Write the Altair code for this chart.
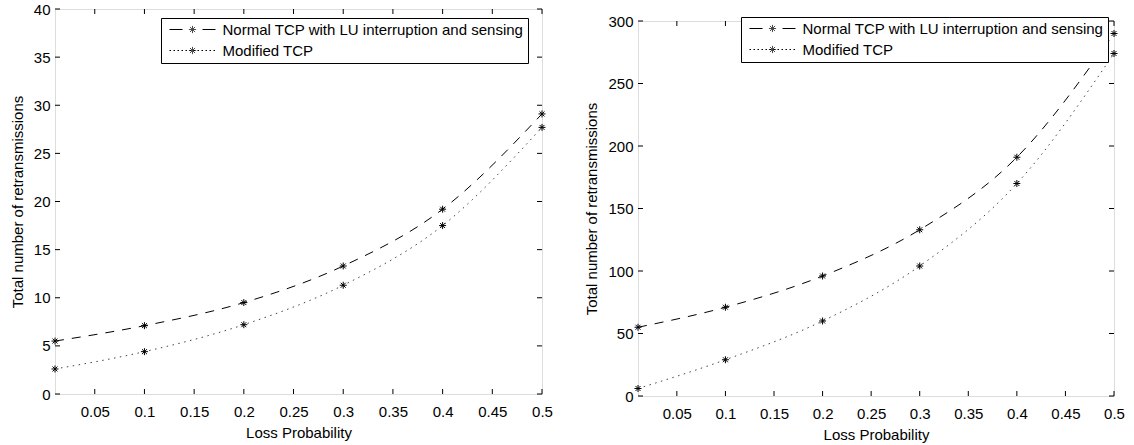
import altair as alt
import pandas as pd

# ---------------- data ----------------
loss_prob = [0.01, 0.1, 0.2, 0.3, 0.4, 0.5]
series_names = ["Normal TCP with LU interruption and sensing", "Modified TCP"]
left_normal = [5.5, 7.1, 9.5, 13.3, 19.2, 29.1]
left_modified = [2.6, 4.4, 7.2, 11.3, 17.5, 27.7]
right_normal = [55, 71, 96, 133, 191, 290]
right_modified = [6, 29, 60, 104, 170, 274]
x_tick_values = [0.05, 0.1, 0.15, 0.2, 0.25, 0.3, 0.35, 0.4, 0.45, 0.5]
left_y_ticks = [0, 5, 10, 15, 20, 25, 30, 35, 40]
right_y_ticks = [0, 50, 100, 150, 200, 250, 300]
x_title = "Loss Probability"
y_title = "Total number of retransmissions"
star_keys = ["star-a", "star-b"]

FONT = "Liberation Sans"
FS = 15


def star_path(r, cx=0.0):
    r = round(r, 4)
    d = round(r * 0.7071, 4)
    c = round(cx, 4)
    return (f"M{c},{-r}V{r}M{round(c - r, 4)},0H{round(c + r, 4)}"
            f"M{round(c - d, 4)},{-d}L{round(c + d, 4)},{d}M{round(c - d, 4)},{d}L{round(c + d, 4)},{-d}")


def panel(normal, modified, y_max, y_ticks, width, height, lx, ly):
    df = pd.DataFrame({
        "x": loss_prob + loss_prob,
        "y": normal + modified,
        "series": [series_names[0]] * len(normal) + [series_names[1]] * len(modified),
    })
    xscale = alt.Scale(domain=[0.01, 0.5], nice=False, zero=False)
    yscale = alt.Scale(domain=[0, y_max], nice=False, zero=False)
    xenc = alt.X("x:Q", scale=xscale, title=x_title,
                 axis=alt.Axis(values=x_tick_values, format="~g", domain=False, ticks=False, grid=False,
                               labelFont=FONT, labelFontSize=FS, labelColor="black", labelPadding=10,
                               titleFont=FONT, titleFontSize=FS, titleFontWeight="normal",
                               titleColor="black", titlePadding=6, labelFlush=False))
    yenc = alt.Y("y:Q", scale=yscale, title=y_title,
                 axis=alt.Axis(values=y_ticks, format="d", domain=False, ticks=False, grid=False,
                               labelFont=FONT, labelFontSize=FS, labelColor="black", labelPadding=5,
                               titleFont=FONT, titleFontSize=FS, titleFontWeight="normal",
                               titleColor="black", titlePadding=8, labelFlush=False))

    base = alt.Chart(df)
    line_n = base.transform_filter(alt.datum.series == series_names[0]).mark_line(
        interpolate="monotone", color="black", strokeWidth=1, strokeDash=[9, 8]
    ).encode(x=xenc, y=yenc)
    line_m = base.transform_filter(alt.datum.series == series_names[1]).mark_line(
        interpolate="monotone", color="#444444", strokeWidth=1, strokeDash=[1.5, 4.5]
    ).encode(x=xenc, y=yenc)
    pts = base.mark_point(shape=star_path(1), size=49, color="black", filled=False,
                          strokeWidth=1, opacity=1).encode(x=xenc, y=yenc)

    xt = pd.DataFrame({"x": x_tick_values})
    yt = pd.DataFrame({"y": y_ticks})
    tick_b = alt.Chart(xt).mark_rule(color="black", strokeWidth=1).encode(
        x=xenc, y=alt.value(height), y2=alt.value(height - 5))
    tick_t = alt.Chart(xt).mark_rule(color="black", strokeWidth=1).encode(
        x=xenc, y=alt.value(0), y2=alt.value(5))
    tick_l = alt.Chart(yt).mark_rule(color="black", strokeWidth=1).encode(
        y=yenc, x=alt.value(0), x2=alt.value(5))
    tick_r = alt.Chart(yt).mark_rule(color="black", strokeWidth=1).encode(
        y=yenc, x=alt.value(width), x2=alt.value(width - 5))

    # legend sample: 46 px line, symbol unit u = 6 px
    u = 6.0
    sym_len = 46.0
    start_u = -0.5
    end_u = start_u + sym_len / u
    line_path = f"M{start_u},0H{round(end_u, 4)}"
    label_off = (end_u - 1) * u + 5.5
    common_leg = dict(orient="none", legendX=lx, legendY=ly, title=None,
                      symbolSize=(2 * u) ** 2, symbolStrokeWidth=1,
                      labelFont=FONT, labelFontSize=FS, labelOffset=label_off, labelLimit=0,
                      padding=4, rowPadding=5)
    leg_lines = base.transform_filter("false").mark_line(color="black", strokeWidth=1).encode(
        x=xenc, y=yenc,
        strokeDash=alt.StrokeDash(
            "series:N",
            scale=alt.Scale(domain=series_names, range=[[13, 20], [1.5, 2.5]]),
            legend=alt.Legend(symbolType=line_path, symbolStrokeColor="black", labelColor="black",
                              strokeColor="black", fillColor="white", **common_leg),
        ),
    )
    star_leg = star_path(3.6 / u, (start_u + end_u) / 2)
    leg_stars = base.transform_filter("false").mark_point(color="black", filled=False, strokeWidth=1).encode(
        x=xenc, y=yenc,
        shape=alt.Shape(
            "series:N",
            scale=alt.Scale(domain=star_keys, range=[star_leg, star_leg]),
            legend=alt.Legend(symbolStrokeColor="black", symbolFillColor="transparent",
                              labelColor="transparent", labelExpr="''", **common_leg),
        ),
    )
    layers = [line_n, line_m, pts, tick_b, tick_t, tick_l, tick_r, leg_lines, leg_stars]
    return alt.layer(*layers).properties(width=width, height=height)


left = panel(left_normal, left_modified, 40, left_y_ticks, 487, 385, 106, 9)
right = panel(right_normal, right_modified, 300, right_y_ticks, 476, 375, 103, 8)

# invisible strip that lowers the right panel a little (its frame starts lower in the reference)
blank = alt.Chart(pd.DataFrame({"s": [0]})).mark_rule(strokeOpacity=0, strokeWidth=0).encode(
    x=alt.value(0), x2=alt.value(0), y=alt.value(0), y2=alt.value(0)
).properties(width=476, height=3.5, view=alt.ViewBackground(stroke="transparent"))

right_col = alt.vconcat(blank, right, spacing=0)

chart = alt.concat(left, right_col, columns=2, spacing=31, align="none").resolve_scale(
    x="independent", y="independent", strokeDash="independent", shape="independent"
).resolve_legend(strokeDash="independent", shape="independent").properties(
    padding={"left": 9, "top": 1, "right": 2, "bottom": 0}
).configure_view(stroke="black", strokeWidth=1).configure(background="white")

chart.save("out.html", embed_options={"renderer": "svg", "actions": False})
